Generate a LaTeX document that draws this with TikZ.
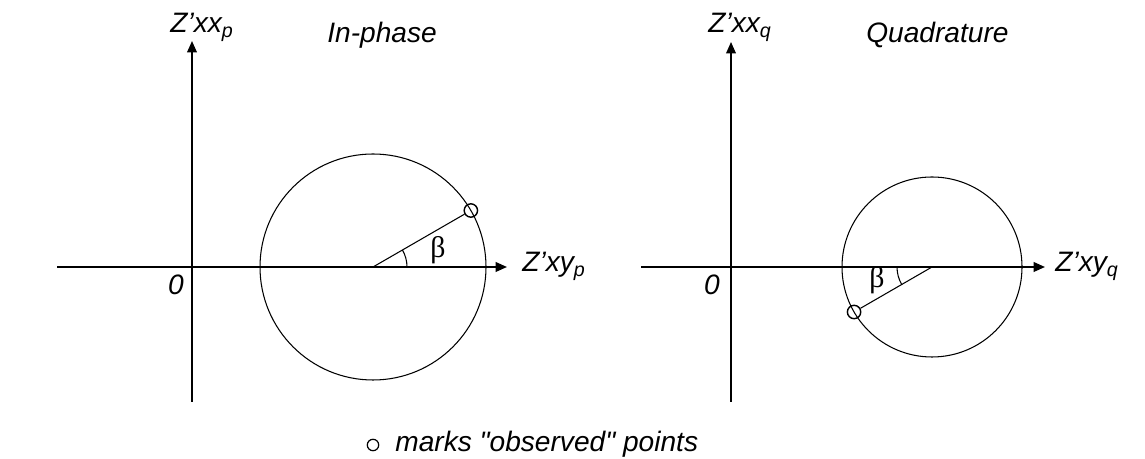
\documentclass[tikz,border=0pt]{standalone}
\usepackage{fontspec}
\setmainfont{Liberation Sans}[Ligatures=TeXOff]
\newfontfamily\greekfont{Liberation Serif}
\usetikzlibrary{arrows.meta}

\begin{document}
\begin{tikzpicture}[x=0.02cm,y=0.02cm,
  axis/.style={line width=1.1pt,-{Triangle[length=6.5pt,width=5.5pt]}},
  thin line/.style={line width=0.6pt},
  lbl/.style={inner sep=0pt,font=\fontsize{16}{19}\selectfont\itshape},
  ang/.style={inner sep=0pt,font=\fontsize{17}{19}\selectfont\greekfont},
  obs/.style={circle,draw,line width=0.8pt,minimum size=7.6pt,inner sep=0pt}]
\useasboundingbox (0,0) rectangle (1145,459);

% in-phase
\coordinate (hl0) at (57,192);
\coordinate (hl1) at (507,192);
\coordinate (vl0) at (192,57);
\coordinate (vl1) at (192,418);
\coordinate (cl) at (373,192);
\draw[axis] (hl0) -- (hl1);
\draw[axis,line width=0.9pt] (vl0) -- (vl1);
\draw[thin line] (cl) circle (113);
\node[obs] (pl) at ([shift={(30:113)}]cl) {};
\draw[thin line] (cl) -- (pl);
\draw[thin line] ([shift={(0:34)}]cl) arc (0:30:34);
\node[ang] (bl) at (438,209) {β};
\node[lbl,anchor=base west] (xyp) at (522,187) {Z’xy\textsubscript{p}};
\node[lbl,anchor=base west] (xxp) at (170,426) {Z’xx\textsubscript{p}};
\node[lbl] (ol) at (176,174) {0};
\node[lbl,anchor=base west] (tl) at (327,416) {In-phase};

% quadrature
\coordinate (hr0) at (641,192);
\coordinate (hr1) at (1045,192);
\coordinate (vr0) at (731,57);
\coordinate (vr1) at (731,417);
\coordinate (cr) at (932,192);
\draw[axis] (hr0) -- (hr1);
\draw[axis,line width=0.9pt] (vr0) -- (vr1);
\draw[thin line] (cr) circle (90);
\node[obs] (pr) at ([shift={(210:90)}]cr) {};
\draw[thin line] (cr) -- (pr);
\draw[thin line] ([shift={(180:35)}]cr) arc (180:210:35);
\node[ang] (br) at (877,179) {β};
\node[lbl,anchor=base west] (xyq) at (1055,187) {Z’xy\textsubscript{q}};
\node[lbl,anchor=base west] (xxq) at (708,426) {Z’xx\textsubscript{q}};
\node[lbl] (or) at (712,174) {0};
\node[lbl,anchor=base west] (tr) at (866,416) {Quadrature};

% legend
\node[obs,line width=0.7pt,minimum size=6.5pt] (key) at (373,14) {};
\node[lbl,anchor=base west] (note) at (395,7) {marks "observed" points};
\end{tikzpicture}
\end{document}
